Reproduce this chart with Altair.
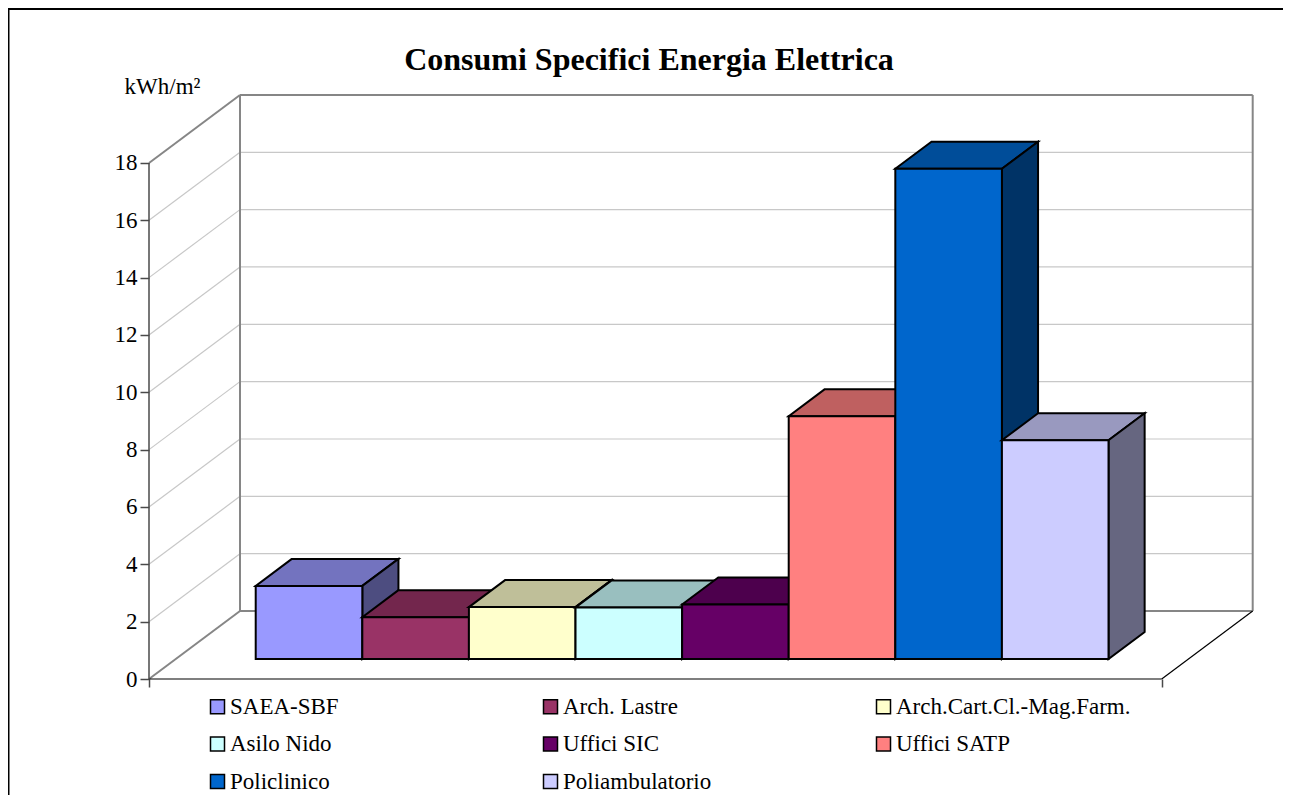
import altair as alt
import pandas as pd

categories = ["SAEA-SBF", "Arch. Lastre", "Arch.Cart.Cl.-Mag.Farm.", "Asilo Nido",
              "Uffici SIC", "Uffici SATP", "Policlinico", "Poliambulatorio"]
values = [2.55, 1.46, 1.81, 1.80, 1.90, 8.47, 17.10, 7.63]
front_colors = ["#9999FF", "#993366", "#FFFFCC", "#CCFFFF", "#660066", "#FF8080", "#0066CC", "#CCCCFF"]
top_colors = ["#7373BF", "#73264D", "#BFBF99", "#99BFBF", "#4D004D", "#BF6060", "#004D99", "#9999BF"]
side_colors = ["#4D4D80", "#4D1A33", "#808066", "#668080", "#330033", "#804040", "#003366", "#666680"]
y_ticks = [0, 2, 4, 6, 8, 10, 12, 14, 16, 18]
y_title = "kWh/m²"

FONT = "Liberation Serif"
PX_X, PX_Y = 106.6, 28.67            # pixels per category slot / per kWh
W, H = 1134, 671
PAD_L, PAD_B = 141, 116
XMAX, YMAX = W / PX_X, H / PX_Y
DX, DY = 91 / PX_X, 68 / PX_Y        # full-depth shift of the oblique projection
GAP = 0.75
X_END = len(categories) + 2 * GAP
D0, D1 = 20 / 68, 47 / 68            # bar depth range


def px(x, d=0.0):
    return x + d * DX


def py(v, d=0.0):
    return v + d * DY


xs = alt.Scale(domain=[0, XMAX], range=[0, W], nice=False, zero=False)
ys = alt.Scale(domain=[0, YMAX], range=[H, 0], nice=False, zero=False)
X = lambda f="x": alt.X(f"{f}:Q", scale=xs, title=None)
Y = lambda f="y": alt.Y(f"{f}:Q", scale=ys, title=y_title)


def segs(rows, color, width):
    df = pd.DataFrame(rows, columns=["x", "x2", "y", "y2"])
    return alt.Chart(df).mark_rule(color=color, strokeWidth=width).encode(
        x=X(), x2="x2:Q", y=Y(), y2="y2:Q")


layers = []

# real axes carried by a transparent first layer
axis_df = pd.DataFrame({"x": [0.0, X_END], "y": [0.0, 18.0]})
layers.append(alt.Chart(axis_df).mark_point(opacity=0).encode(
    x=alt.X("x:Q", scale=xs, axis=alt.Axis(
        values=[0, X_END], labels=False, title=None, domain=False, grid=False,
        tickColor="#4A4A4A", tickSize=8, tickWidth=1.5)),
    y=alt.Y("y:Q", scale=ys, axis=alt.Axis(
        values=y_ticks, format="d", domain=False, grid=False, tickColor="#4A4A4A",
        tickSize=9, tickWidth=1.5, labelFont=FONT, labelFontSize=23, labelColor="#000000",
        labelPadding=3, title=y_title, titleFont=FONT, titleFontSize=23,
        titleFontWeight="normal", titleColor="#000000", titleAngle=0, titleAlign="center",
        titleBaseline="alphabetic", titleX=13, titleY=85)),
))

# frame of the picture
layers.append(segs([
    [-140.5 / PX_X, -140.5 / PX_X, -PAD_B / PX_Y, YMAX],
    [-141 / PX_X, XMAX, YMAX - 1 / PX_Y, YMAX - 1 / PX_Y],
], "#000000", 2))

# gridlines on back and side wall
grid_rows = []
for t in y_ticks[1:-1]:
    grid_rows.append([px(0), px(0, 1), py(t), py(t, 1)])
    grid_rows.append([px(0, 1), px(X_END, 1), py(t, 1), py(t, 1)])
layers.append(segs(grid_rows, "#C8C8C8", 1.2))

# walls
layers.append(segs([
    [px(0), px(0, 1), py(18), py(18, 1)],
    [px(0), px(0, 1), py(0), py(0, 1)],
    [px(0, 1), px(0, 1), py(0, 1), py(18, 1)],
    [px(X_END, 1), px(X_END, 1), py(0, 1), py(18, 1)],
    [px(0, 1), px(X_END, 1), py(0, 1), py(0, 1)],
    [px(0, 1), px(X_END, 1), py(18, 1), py(18, 1)],
], "#868686", 2))

# floor edges and front axis
layers.append(segs([
    [px(0), px(X_END), py(0), py(0)],
    [px(X_END), px(X_END, 1), py(0), py(0, 1)],
], "#000000", 1.2))
layers.append(segs([[px(0), px(0), py(0), py(18)]], "#4A4A4A", 1.5))

# bars
cat_scale = alt.Scale(domain=categories, range=front_colors)
for i, (cat, val) in enumerate(zip(categories, values)):
    l, r = GAP + i, GAP + i + 1
    top = pd.DataFrame({
        "y": [py(val, D0), py(val, D1)],
        "x": [px(l, D0), px(l, D1)],
        "x2": [px(r, D0), px(r, D1)],
    })
    layers.append(alt.Chart(top).mark_area(
        orient="horizontal", fill=top_colors[i], stroke="#000000", strokeWidth=2
    ).encode(x=X(), x2="x2:Q", y=Y()))
    side = pd.DataFrame({
        "x": [px(r, D0), px(r, D1)],
        "y": [py(val, D0), py(val, D1)],
        "y2": [py(0, D0), py(0, D1)],
    })
    layers.append(alt.Chart(side).mark_area(
        orient="vertical", fill=side_colors[i], stroke="#000000", strokeWidth=2
    ).encode(x=X(), y=Y(), y2="y2:Q"))
    front = pd.DataFrame({
        "x": [px(l, D0)], "x2": [px(r, D0)],
        "y": [py(val, D0)], "y2": [py(0, D0)], "cat": [cat],
    })
    layers.append(alt.Chart(front).mark_rect(stroke="#000000", strokeWidth=2).encode(
        x=X(), x2="x2:Q", y=Y(), y2="y2:Q",
        color=alt.Color("cat:N", scale=cat_scale, sort=categories, legend=alt.Legend(
            title=None, orient="none", legendX=57, legendY=687, columns=3,
            direction="horizontal", gridAlign="all", columnPadding=74, rowPadding=13.5,
            symbolType="square", symbolSize=196, symbolStrokeColor="#000000",
            symbolStrokeWidth=1.5, symbolOpacity=1, labelFont=FONT, labelFontSize=23,
            labelColor="#000000", labelLimit=400, labelOffset=1, padding=0,
            values=categories,
        ))))

chart = alt.layer(*layers).properties(
    width=W, height=H,
    title=alt.TitleParams("Consumi Specifici Energia Elettrica", font=FONT, fontSize=32,
                          fontWeight="bold", color="#000000", anchor="middle",
                          offset=0, dx=-67, dy=95, baseline="alphabetic"),
    autosize=alt.AutoSizeParams(type="none"),
    padding={"left": PAD_L, "top": 0, "right": 0, "bottom": PAD_B},
).configure_view(stroke=None).resolve_scale(color="shared")

chart.save("out.html", embed_options={"renderer": "svg", "actions": False})
